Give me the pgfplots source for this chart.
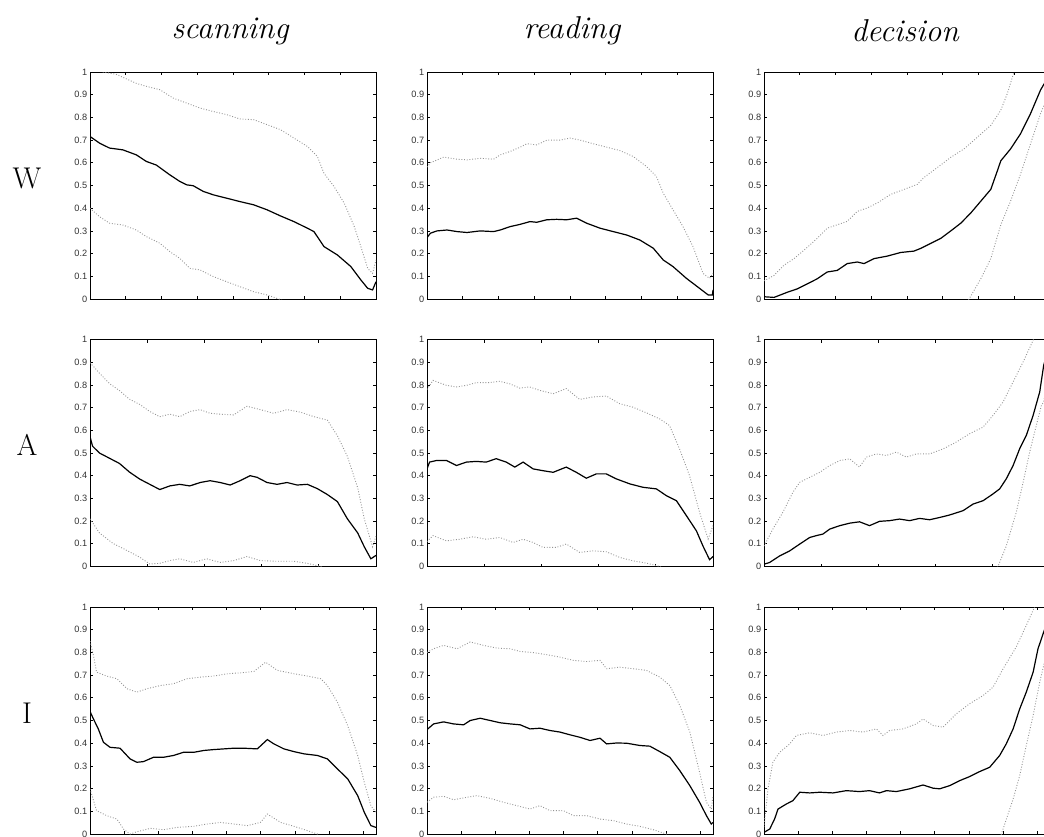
\documentclass[border=0pt]{standalone}
\usepackage{fontspec}
\usepackage{pgfplots}
\pgfplotsset{compat=1.18}
\newfontfamily\ticksans{Liberation Sans}

\pgfplotsset{
  panel/.style={
    scale only axis, width=143pt, height=113.5pt,
    anchor=north west,
    xmin=0, xmax=100, ymin=0, ymax=1,
    ytick={0,0.1,0.2,0.3,0.4,0.5,0.6,0.7,0.8,0.9,1},
    yticklabels={0,0.1,0.2,0.3,0.4,0.5,0.6,0.7,0.8,0.9,1},
    xticklabels={},
    tick pos=both, tick align=inside,
    major tick length=1.5pt,
    tick style={black, line width=0.4pt},
    axis line style={line width=0.5pt},
    yticklabel style={font=\ticksans\fontsize{4.6}{5}\selectfont, text=black!80, inner sep=1.2pt},
  },
  rowW/.style={xtick={12.5,25,37.5,50,62.5,75,87.5}},
  rowA/.style={xtick={20,40,60,80}},
  rowI/.style={xtick={11.95,23.9,35.85,47.8,59.75,71.7,83.65,95.6}},
  mean/.style={black, line width=0.6pt},
  band/.style={black!42, line width=0.45pt, dash pattern=on 0.45pt off 0.9pt},
}

\begin{document}
\begin{tikzpicture}
% column titles and row names
\node[font=\fontsize{15.8}{18}\selectfont\itshape] at (115pt,-15.5pt) {scanning};
\node[font=\fontsize{15.8}{18}\selectfont\itshape] at (286pt,-15.5pt) {reading};
\node[font=\fontsize{15.8}{18}\selectfont\itshape] at (452.5pt,-15.5pt) {decision};
\node[font=\fontsize{15}{18}\selectfont, anchor=base] at (13.5pt,-94pt) {W};
\node[font=\fontsize{15}{18}\selectfont, anchor=base] at (13.5pt,-227.5pt) {A};
\node[font=\fontsize{15}{18}\selectfont, anchor=base] at (13.5pt,-361.5pt) {I};

% ---------- W / scanning
\begin{axis}[panel, rowW, at={(45pt,-36pt)}]
\addplot[band] coordinates {(0,1.02) (4.5,1.0) (9.1,0.99) (16.2,0.950) (19.7,0.937) (24.4,0.922) (29.1,0.885) (33.8,0.863) (38.5,0.841) (43.1,0.826) (47.8,0.812) (52.5,0.793) (57.2,0.790) (61.9,0.768) (66.6,0.746) (71.3,0.709) (76.0,0.672) (79.5,0.628) (81.8,0.554) (85.3,0.496) (88.9,0.422) (92.4,0.319) (94.7,0.231) (97.1,0.135) (98.8,0.113) (100,0.172)};
\addplot[band] coordinates {(0,0.400) (3.3,0.363) (6.8,0.334) (11.5,0.326) (16.2,0.304) (19.7,0.275) (24.4,0.246) (27.9,0.209) (31.4,0.179) (34.9,0.135) (38.5,0.128) (43.1,0.099) (47.8,0.076) (52.5,0.054) (57.2,0.032) (61.9,0.018) (66.0,0.0) (71.3,-0.03)};
\addplot[mean] coordinates {(0,0.716) (3.3,0.687) (6.8,0.665) (11.5,0.657) (16.2,0.635) (19.7,0.606) (23.2,0.590) (27.9,0.547) (31.4,0.518) (33.8,0.503) (36.1,0.499) (39.6,0.474) (43.1,0.459) (47.8,0.444) (52.5,0.429) (57.2,0.415) (61.9,0.393) (66.6,0.366) (71.3,0.341) (76.0,0.312) (78.3,0.297) (81.8,0.231) (86.5,0.194) (91.2,0.143) (94.7,0.084) (97.1,0.047) (98.8,0.040) (100,0.076)};
\end{axis}

% ---------- W / reading
\begin{axis}[panel, rowW, at={(213.5pt,-36pt)}]
\addplot[band] coordinates {(0,0.581) (1.2,0.600) (5.8,0.625) (10.5,0.616) (14.0,0.613) (18.6,0.620) (23.3,0.616) (25.6,0.635) (29.1,0.650) (32.6,0.669) (34.9,0.684) (38.4,0.679) (41.9,0.700) (46.5,0.700) (50.0,0.709) (53.5,0.700) (58.1,0.684) (62.8,0.669) (67.4,0.654) (72.1,0.628) (76.7,0.584) (80.2,0.540) (82.6,0.466) (86.0,0.393) (89.5,0.319) (93.0,0.231) (96.5,0.113) (98.8,0.091) (100,0.113)};
\addplot[mean] coordinates {(0,0.27) (1.2,0.29) (3.5,0.300) (7.0,0.304) (10.5,0.297) (14.0,0.293) (18.6,0.300) (23.3,0.297) (25.6,0.304) (29.1,0.319) (32.6,0.329) (36.0,0.341) (38.4,0.338) (41.9,0.349) (45.3,0.351) (48.8,0.349) (52.3,0.356) (55.8,0.334) (60.5,0.312) (65.1,0.297) (69.8,0.282) (74.4,0.260) (79.1,0.224) (82.6,0.172) (86.0,0.143) (90.7,0.091) (95.3,0.047) (98.3,0.018) (99.8,0.018) (100,0.040)};
\end{axis}

% ---------- W / decision
\begin{axis}[panel, rowW, at={(382pt,-36pt)}]
\addplot[band] coordinates {(0,0.080) (3.5,0.104) (7.0,0.149) (10.5,0.178) (14.0,0.215) (18.6,0.267) (22.1,0.312) (25.6,0.327) (29.1,0.342) (32.6,0.386) (36.1,0.401) (39.6,0.423) (44.3,0.461) (49.0,0.483) (53.6,0.505) (55.9,0.535) (60.6,0.579) (65.3,0.624) (69.9,0.661) (74.6,0.713) (79.3,0.765) (82.8,0.832) (85.1,0.906) (87.4,1.000) (89.7,1.08)};
\addplot[band] coordinates {(68.0,-0.06) (71.7,0.0) (75.8,0.089) (79.3,0.178) (82.8,0.327) (86.2,0.431) (89.7,0.550) (93.2,0.684) (96.7,0.817) (98.1,0.860) (100,0.93)};
\addplot[mean] coordinates {(0,0.010) (3.5,0.007) (8.2,0.030) (11.7,0.045) (15.2,0.067) (18.6,0.089) (22.1,0.119) (25.6,0.126) (29.1,0.156) (32.6,0.163) (35.0,0.156) (38.5,0.178) (43.1,0.189) (47.8,0.205) (52.4,0.211) (54.8,0.223) (58.3,0.245) (61.8,0.267) (65.3,0.300) (68.8,0.334) (72.3,0.379) (75.8,0.431) (79.3,0.483) (81.6,0.565) (82.8,0.609) (86.2,0.661) (89.7,0.728) (93.2,0.817) (96.7,0.921) (98.1,0.951) (100,0.98)};
\end{axis}

% ---------- A / scanning
\begin{axis}[panel, rowA, at={(45pt,-169.75pt)}]
\addplot[band] coordinates {(0,0.898) (3.3,0.852) (6.8,0.806) (10.3,0.775) (13.8,0.737) (17.4,0.714) (20.9,0.683) (24.4,0.660) (27.9,0.671) (31.4,0.660) (34.9,0.683) (38.5,0.691) (42.0,0.675) (45.5,0.671) (50.2,0.668) (54.9,0.706) (59.6,0.691) (64.2,0.675) (68.9,0.691) (73.6,0.680) (78.3,0.660) (83.0,0.645) (86.5,0.576) (90.0,0.485) (93.6,0.347) (95.9,0.210) (98.8,0.087) (100,0.133)};
\addplot[band] coordinates {(0,0.210) (3.3,0.148) (8.0,0.102) (12.7,0.072) (17.4,0.041) (20.9,0.011) (24.4,0.014) (27.9,0.026) (31.4,0.034) (36.1,0.018) (40.8,0.034) (45.5,0.018) (50.2,0.026) (54.9,0.044) (59.6,0.026) (65.4,0.023) (71.3,0.023) (76.0,0.014) (80.7,0.0) (85.3,-0.04)};
\addplot[mean] coordinates {(0,0.572) (0.9,0.53) (3.3,0.50) (6.8,0.477) (10.3,0.454) (13.8,0.416) (17.4,0.385) (20.9,0.362) (24.4,0.339) (27.9,0.355) (31.4,0.362) (34.9,0.355) (38.5,0.370) (42.0,0.378) (45.5,0.370) (49.0,0.359) (52.5,0.378) (56.0,0.400) (58.4,0.393) (61.9,0.370) (65.4,0.362) (68.9,0.370) (72.4,0.359) (76.0,0.362) (79.5,0.343) (83.0,0.317) (86.5,0.286) (90.0,0.210) (93.6,0.148) (95.9,0.087) (98.2,0.034) (100,0.049)};
\end{axis}

% ---------- A / reading
\begin{axis}[panel, rowA, at={(213.5pt,-169.75pt)}]
\addplot[band] coordinates {(0,0.780) (2.1,0.820) (6.8,0.798) (10.3,0.791) (13.8,0.798) (17.2,0.810) (21.9,0.810) (25.4,0.816) (28.9,0.805) (32.4,0.786) (35.9,0.791) (39.4,0.776) (44.1,0.761) (48.7,0.784) (53.4,0.736) (58.0,0.747) (62.7,0.751) (67.4,0.717) (72.0,0.702) (76.7,0.677) (81.4,0.650) (84.8,0.621) (88.3,0.518) (91.8,0.400) (95.3,0.239) (98.3,0.121) (100,0.180)};
\addplot[band] coordinates {(0,0.110) (2.1,0.136) (6.8,0.113) (11.4,0.120) (16.1,0.131) (20.7,0.120) (25.4,0.128) (30.1,0.106) (33.6,0.120) (37.1,0.106) (40.6,0.084) (45.2,0.084) (48.7,0.099) (53.4,0.062) (58.0,0.069) (62.7,0.065) (67.4,0.040) (72.0,0.025) (76.7,0.015) (81.4,0.0) (86.0,-0.04)};
\addplot[mean] coordinates {(0,0.430) (0.9,0.460) (3.3,0.467) (6.8,0.467) (10.3,0.445) (13.8,0.460) (17.2,0.463) (20.7,0.460) (24.2,0.475) (27.7,0.460) (30.7,0.438) (33.6,0.460) (37.1,0.430) (40.6,0.422) (44.1,0.415) (48.7,0.438) (52.2,0.415) (55.7,0.389) (59.2,0.408) (62.7,0.408) (66.2,0.386) (70.9,0.364) (75.5,0.349) (80.2,0.342) (83.7,0.312) (87.2,0.290) (90.7,0.224) (94.2,0.157) (96.5,0.090) (98.8,0.030) (100,0.044)};
\end{axis}

% ---------- A / decision
\begin{axis}[panel, rowA, at={(382pt,-169.75pt)}]
\addplot[band] coordinates {(0,0.090) (3.1,0.165) (6.6,0.239) (10.1,0.327) (12.5,0.371) (16.0,0.393) (19.5,0.415) (23.0,0.445) (26.5,0.467) (30.0,0.474) (33.4,0.438) (35.8,0.482) (39.3,0.496) (42.8,0.489) (46.3,0.504) (49.8,0.482) (53.3,0.496) (57.9,0.496) (62.6,0.518) (67.2,0.548) (71.9,0.585) (76.6,0.614) (80.1,0.666) (83.6,0.725) (87.1,0.813) (90.6,0.901) (94.1,0.997) (96.4,1.06)};
\addplot[band] coordinates {(78.0,-0.06) (81.8,0.0) (84.7,0.090) (88.2,0.239) (90.6,0.371) (92.9,0.504) (95.2,0.621) (97.0,0.710) (97.8,0.725) (100,0.90)};
\addplot[mean] coordinates {(0,0.010) (2.0,0.018) (5.5,0.047) (9.0,0.069) (12.5,0.099) (16.0,0.128) (18.3,0.136) (20.6,0.143) (23.0,0.165) (26.5,0.180) (30.0,0.191) (33.4,0.197) (36.9,0.180) (40.4,0.199) (43.9,0.202) (47.4,0.209) (50.9,0.202) (54.4,0.212) (57.9,0.206) (61.4,0.216) (64.9,0.227) (69.6,0.246) (73.1,0.275) (76.6,0.290) (80.1,0.320) (82.4,0.342) (84.7,0.386) (87.1,0.445) (89.4,0.519) (91.7,0.577) (94.1,0.666) (96.4,0.769) (97.8,0.887) (100,0.98)};
\end{axis}

% ---------- I / scanning
\begin{axis}[panel, rowI, at={(45pt,-303.5pt)}]
\addplot[band] coordinates {(0,0.850) (1.2,0.787) (2.3,0.713) (5.8,0.696) (9.4,0.684) (12.9,0.640) (16.4,0.625) (19.9,0.640) (24.6,0.654) (29.2,0.662) (33.9,0.684) (38.6,0.691) (43.3,0.696) (48.0,0.706) (52.6,0.710) (57.3,0.716) (61.4,0.757) (65.5,0.721) (71.3,0.706) (76.0,0.696) (80.7,0.684) (83.0,0.654) (86.5,0.581) (90.1,0.478) (93.6,0.346) (95.9,0.228) (98.2,0.125) (100,0.096)};
\addplot[band] coordinates {(0,0.199) (2.3,0.103) (5.8,0.081) (9.4,0.066) (11.7,0.022) (14.0,0.0) (16.4,0.010) (21.1,0.025) (25.7,0.019) (30.4,0.029) (36.3,0.034) (40.9,0.044) (45.6,0.051) (50.3,0.044) (55.0,0.037) (59.6,0.051) (62.0,0.088) (66.7,0.051) (71.3,0.034) (76.0,0.015) (79.5,0.0) (83.0,-0.04)};
\addplot[mean] coordinates {(0,0.540) (1.2,0.507) (2.9,0.463) (4.7,0.404) (7.0,0.382) (10.5,0.378) (14.0,0.331) (16.4,0.316) (18.7,0.319) (22.2,0.338) (25.7,0.338) (29.2,0.346) (32.7,0.360) (36.3,0.360) (39.8,0.368) (43.3,0.372) (46.8,0.375) (50.3,0.378) (53.8,0.378) (58.5,0.375) (62.0,0.416) (64.3,0.397) (67.8,0.375) (71.3,0.363) (74.9,0.353) (79.5,0.346) (83.0,0.331) (86.5,0.287) (90.1,0.243) (93.6,0.169) (95.9,0.096) (98.2,0.037) (100,0.029)};
\end{axis}

% ---------- I / reading
\begin{axis}[panel, rowI, at={(213.5pt,-303.5pt)}]
\addplot[band] coordinates {(0,0.800) (2.3,0.816) (5.8,0.831) (10.5,0.816) (15.1,0.846) (19.8,0.831) (24.4,0.819) (29.1,0.816) (32.6,0.804) (37.2,0.799) (41.9,0.790) (46.5,0.779) (51.2,0.765) (55.8,0.760) (60.5,0.765) (62.8,0.728) (67.4,0.735) (72.1,0.728) (76.7,0.721) (81.4,0.691) (84.9,0.654) (88.4,0.566) (91.9,0.449) (95.3,0.272) (97.7,0.140) (99.4,0.110) (100,0.169)};
\addplot[band] coordinates {(0,0.140) (2.3,0.162) (5.8,0.166) (9.3,0.151) (14.0,0.162) (17.4,0.169) (22.1,0.157) (26.7,0.140) (31.4,0.125) (36.0,0.110) (39.5,0.125) (43.0,0.103) (47.7,0.103) (51.2,0.081) (55.8,0.081) (60.5,0.066) (65.1,0.059) (69.8,0.044) (74.4,0.034) (79.1,0.019) (83.7,0.0) (88.4,-0.04)};
\addplot[mean] coordinates {(0,0.460) (2.3,0.485) (5.8,0.494) (9.3,0.485) (12.8,0.481) (15.1,0.500) (18.6,0.510) (22.1,0.500) (25.6,0.490) (29.1,0.485) (32.6,0.481) (36.0,0.463) (39.5,0.466) (43.0,0.456) (46.5,0.449) (50.0,0.437) (53.5,0.426) (57.0,0.412) (60.5,0.422) (62.8,0.397) (66.3,0.401) (69.8,0.400) (74.4,0.390) (77.9,0.387) (81.4,0.363) (84.9,0.338) (88.4,0.279) (91.9,0.213) (95.3,0.140) (97.7,0.081) (99.4,0.044) (100,0.051)};
\end{axis}

% ---------- I / decision
\begin{axis}[panel, rowI, at={(382pt,-303.5pt)}]
\addplot[band] coordinates {(0,0.030) (1.4,0.199) (3.1,0.316) (5.5,0.360) (9.0,0.397) (11.3,0.434) (16.0,0.446) (20.6,0.434) (25.3,0.449) (30.0,0.456) (34.6,0.449) (39.3,0.463) (41.6,0.434) (43.9,0.456) (48.6,0.463) (53.3,0.485) (55.6,0.507) (59.1,0.478) (62.6,0.471) (67.2,0.529) (71.9,0.574) (76.6,0.610) (80.1,0.647) (83.6,0.728) (88.2,0.824) (91.7,0.919) (94.6,1.0) (96.4,1.05)};
\addplot[band] coordinates {(80.0,-0.05) (83.0,0.0) (87.1,0.154) (89.4,0.257) (91.7,0.390) (94.1,0.522) (96.4,0.669) (97.8,0.743) (100,0.86)};
\addplot[mean] coordinates {(0,0.007) (2.0,0.022) (3.7,0.066) (4.9,0.110) (7.8,0.132) (10.1,0.147) (12.5,0.184) (16.0,0.181) (19.5,0.184) (24.1,0.181) (28.8,0.191) (33.4,0.187) (36.9,0.191) (40.4,0.181) (42.8,0.191) (46.3,0.187) (50.9,0.199) (55.6,0.216) (59.1,0.202) (61.4,0.199) (64.9,0.213) (68.4,0.235) (71.9,0.253) (75.4,0.275) (78.9,0.294) (82.4,0.346) (84.7,0.397) (87.1,0.463) (89.4,0.551) (91.7,0.625) (94.1,0.713) (95.8,0.816) (97.8,0.890) (100,0.97)};
\end{axis}

% page as in the reference: the right column is cut at the edge
\pgfresetboundingbox
\path[use as bounding box] (0,0) rectangle (522pt,-418pt);
\end{tikzpicture}
\end{document}
